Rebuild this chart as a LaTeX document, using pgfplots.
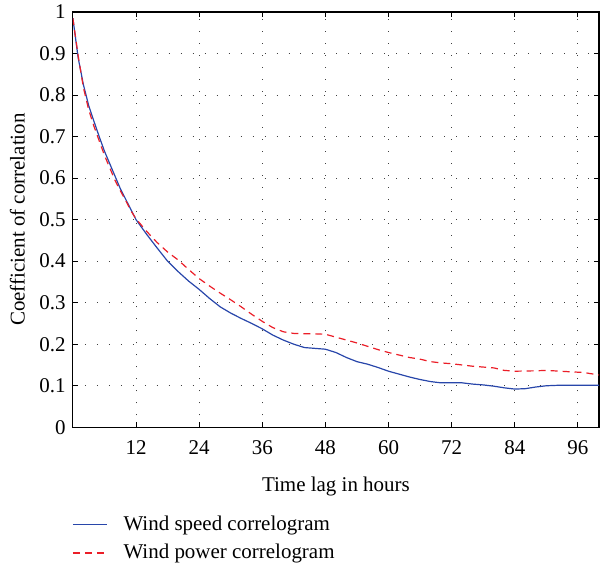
\documentclass[border=0pt]{standalone}
\usepackage{fontspec}
\setmainfont{Liberation Serif}
\usepackage{pgfplots}
\pgfplotsset{compat=1.18}
\definecolor{speedblue}{RGB}{40,70,170}
\definecolor{powerred}{RGB}{235,30,40}
\begin{document}
\fontsize{10.5}{12.6}\selectfont
\begin{tikzpicture}
\begin{axis}[
  at={(0,0)}, anchor=south west,
  scale only axis, width=263.5pt, height=208pt,
  xmin=0, xmax=100, ymin=0, ymax=1,
  xtick={12,24,36,48,60,72,84,96},
  ytick={0,0.1,0.2,0.3,0.4,0.5,0.6,0.7,0.8,0.9,1},
  /pgf/number format/fixed,
  /pgf/number format/assume math mode=true,
  tick label style={font=\fontsize{10.5}{12.6}\selectfont},
  xticklabel style={yshift=-3pt},
  label style={font=\fontsize{10.5}{12.6}\selectfont},
  major tick length=2.5pt,
  tick style={black, line width=0.5pt},
  axis line style={line width=0.6pt},
  grid=major,
  major grid style={line width=0.5pt, black!75, dash pattern=on 0.5pt off 5.5pt},
  xlabel={Time lag in hours},
  ylabel={Coefficient of correlation},
  xlabel style={yshift=-4pt},
  ylabel style={yshift=0pt},
  legend style={at={(0,0)}, anchor=north west, xshift=-3.5pt, yshift=-40pt,
    draw=none, fill=none, font=\fontsize{10.5}{12.6}\selectfont,
    row sep=1.5pt,
    /tikz/every odd column/.append style={column sep=6pt}},
  legend cell align=left,
]
\addplot[speedblue, line width=0.6pt] coordinates {
(0,0.985)(1,0.89)(2,0.825)(3,0.775)(4,0.737)(5,0.70)(6,0.665)(7,0.635)(8,0.605)(9,0.575)(10,0.55)(11,0.525)(12,0.50)(14,0.465)(16,0.432)(18,0.40)(20,0.375)(22,0.352)(24,0.332)(26,0.31)(28,0.29)(30,0.275)(32,0.262)(34,0.25)(36,0.237)(38,0.222)(40,0.21)(42,0.2)(44,0.192)(46,0.19)(48,0.188)(50,0.18)(52,0.168)(54,0.158)(56,0.152)(58,0.144)(60,0.135)(62,0.128)(64,0.121)(66,0.115)(68,0.110)(70,0.107)(74,0.107)(76,0.104)(78,0.102)(80,0.099)(82,0.095)(84,0.092)(86,0.093)(88,0.097)(90,0.100)(92,0.101)(100,0.101)
};
\addlegendentry{Wind speed correlogram}
\addplot[powerred, line width=0.6pt, dash pattern=on 3.5pt off 2.5pt] coordinates {
(0,0.985)(1,0.895)(2,0.818)(3,0.765)(4,0.725)(5,0.69)(6,0.655)(7,0.625)(8,0.595)(9,0.57)(10,0.547)(11,0.522)(12,0.502)(14,0.472)(16,0.445)(18,0.422)(20,0.403)(22,0.38)(24,0.358)(26,0.34)(28,0.323)(30,0.307)(32,0.29)(34,0.272)(36,0.255)(38,0.24)(40,0.23)(42,0.226)(44,0.225)(46,0.225)(48,0.224)(50,0.217)(52,0.21)(54,0.203)(56,0.195)(58,0.187)(60,0.18)(62,0.174)(64,0.168)(66,0.164)(68,0.158)(70,0.155)(72,0.153)(74,0.15)(76,0.147)(78,0.145)(80,0.143)(82,0.137)(84,0.135)(88,0.136)(90,0.137)(94,0.134)(97,0.132)(100,0.126)
};
\addlegendentry{Wind power correlogram}
\end{axis}
\pgfresetboundingbox
\path (-36.5pt,-69.5pt) rectangle (264pt,214pt);
\end{tikzpicture}
\end{document}
